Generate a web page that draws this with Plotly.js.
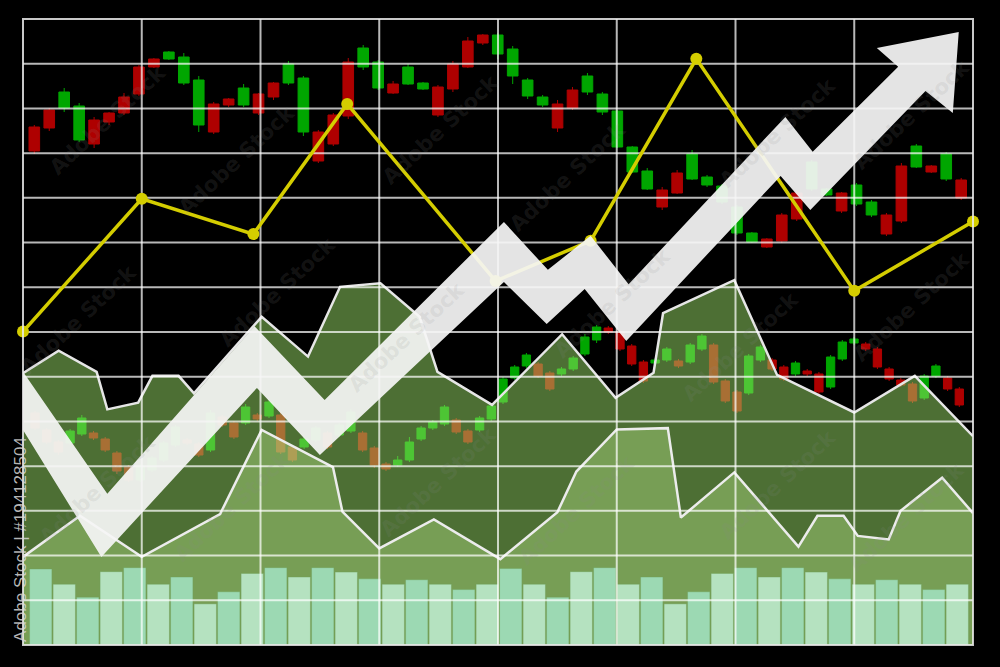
<!DOCTYPE html>
<html>
<head>
<meta charset="utf-8">
<script src="https://cdn.plot.ly/plotly-3.0.1.min.js"></script>
<style>
html,body{margin:0;padding:0;background:#000;}
#chart{width:1000px;height:667px;}
</style>
</head>
<body>
<div id="chart"></div>
<script>
// ---------- upper candlestick series (63 sessions) ----------
const upperOpen  = [518,535,537,505,525,532,548,578,586,586,562,520,541,546,540,551,562,562,513,513,530,583,578,557,561,561,556,558,581,604,610,591,569,549,540,541,555,553,533,498,473,456,455,472,466,460,443,412,403,406,430,452,456,450,452,441,430,430,479,478,479,466,465];
const upperClose = [494,517,553,539,501,523,532,551,578,593,588,565,513,540,557,532,548,581,567,484,501,529,597,583,552,578,562,530,556,578,602,610,596,565,548,517,537,569,551,534,498,474,438,452,491,468,459,438,412,398,404,426,483,456,434,460,443,411,424,499,473,491,447];
const upperHigh  = [520,537,557,542,528,533,552,580,587,594,592,569,543,547,561,552,563,584,569,515,532,587,600,585,564,581,563,560,584,608,611,612,599,567,550,545,558,572,553,535,499,477,458,475,495,470,461,440,413,407,432,454,485,457,453,462,445,432,482,501,480,493,467];
const upperLow   = [491,514,533,503,497,520,530,549,577,585,560,513,511,538,538,530,545,560,509,482,499,526,575,555,551,560,555,528,553,577,600,586,561,546,538,513,535,550,530,497,472,455,435,451,465,458,441,410,402,397,402,424,454,449,432,439,428,409,422,477,472,464,445];

// ---------- lower candlestick series (80 sessions) ----------
const lowerOpen  = [232,215,203,202,211,212,206,192,178,165,175,185,200,205,201,195,228,222,222,230,229,230,198,198,205,212,210,214,212,197,181,180,185,206,217,221,225,214,215,226,243,267,279,281,272,271,276,291,305,317,313,299,283,282,285,284,283,296,300,264,253,252,285,285,278,271,274,271,258,286,302,301,296,276,265,261,247,269,267,256];
const lowerClose = [217,203,193,214,227,207,195,174,165,179,187,202,218,202,190,232,220,208,238,226,243,193,185,206,217,198,220,233,195,180,176,185,203,217,223,238,213,203,227,239,266,278,290,269,256,276,287,308,318,313,296,281,264,285,296,279,300,309,263,244,234,289,298,276,266,282,271,253,288,303,306,296,278,266,260,244,269,279,256,240];
const lowerHigh  = [234,217,205,216,230,214,208,194,180,181,189,204,220,207,203,235,230,224,241,232,246,233,200,208,219,214,222,236,214,199,183,189,208,219,225,240,227,216,229,241,268,280,292,283,274,278,289,311,320,319,315,301,285,287,298,286,302,311,302,266,255,291,300,287,280,284,276,273,290,305,308,303,298,278,267,263,271,281,269,258];
const lowerLow   = [215,201,190,200,209,205,193,171,163,163,173,183,198,200,188,193,218,206,220,224,227,191,183,196,203,196,208,212,193,177,174,178,183,204,215,219,211,201,213,224,241,265,277,267,254,269,274,289,302,311,294,279,262,280,283,277,281,294,261,242,232,250,283,274,264,269,269,251,256,284,300,294,276,264,258,242,245,267,254,238];

// ---------- yellow line ----------
const yellowX = [0,1.00,1.94,2.73,3.98,4.78,5.67,7.00,8.00];
const yellowY = [7.01,9.98,9.19,12.10,8.14,9.04,13.11,7.92,9.47];

// ---------- dark green area ----------
const darkX = [0,0.30,0.62,0.71,0.97,1.09,1.31,1.44,2.01,2.40,2.67,3.01,3.34,3.49,3.95,4.54,4.99,5.31,5.39,5.99,6.35,7.00,7.51,8.00];
const darkY = [6.08,6.58,6.11,5.27,5.42,6.02,6.02,5.63,7.34,6.45,8.01,8.09,7.34,6.11,5.37,6.95,5.53,6.09,7.42,8.16,6.04,5.20,6.02,4.67];

// ---------- medium green area ----------
const medX = [0,0.48,1.00,1.66,2.01,2.61,2.69,3.00,3.46,4.02,4.50,4.66,5.00,5.43,5.54,5.99,6.53,6.69,6.91,7.03,7.29,7.39,7.74,8.00];
const medY = [1.97,2.89,1.97,2.93,4.81,3.98,2.98,2.16,2.81,1.92,2.97,3.88,4.82,4.85,2.85,3.86,2.20,2.89,2.89,2.44,2.36,3.00,3.74,2.95];

// ---------- volume bars (40) ----------
const barVals = [1.70,1.36,1.07,1.64,1.73,1.36,1.52,0.92,1.19,1.60,1.73,1.52,1.73,1.63,1.48,1.36,1.46,1.36,1.24,1.36,
                 1.71,1.36,1.07,1.64,1.73,1.36,1.52,0.92,1.19,1.60,1.73,1.52,1.73,1.63,1.48,1.36,1.46,1.36,1.24,1.36];

// ---------- rising arrow outline ----------
const arrowX = [0,0.71,1.95,2.54,4.05,4.42,4.78,5.10,6.42,6.65,7.37,7.19,7.88,7.83,7.60,6.63,6.38,5.08,4.73,4.41,4.05,2.50,1.97,0.66,0];
const arrowY = [6.11,3.38,7.13,5.48,9.46,8.39,9.15,8.07,11.81,11.03,12.93,13.35,13.71,11.90,12.39,9.73,10.49,6.80,7.96,7.18,8.12,4.25,5.75,1.97,4.81];

// ---------- grid ticks ----------
const gridXTicks = [1,2,3,4,5,6,7];
const gridYTicks = [1,2,3,4,5,6,7,8,9,10,11,12,13];

// ---------- texts ----------
const sideText = 'Adobe Stock | #194128504';
const watermarkText = 'Adobe Stock';
// watermark anchor points (paper fractions)
const wmX = [0.089,0.225,0.439,0.573,0.794,0.935, 0.058,0.268,0.404,0.621,0.755,0.935, 0.078,0.220,0.437,0.583,0.794,0.930];
const wmY = [0.839,0.775,0.823,0.748,0.818,0.847, 0.519,0.564,0.492,0.546,0.476,0.540, 0.248,0.220,0.260,0.216,0.256,0.204];

const upperIdx = upperOpen.map((_, i) => i);
const lowerIdx = lowerOpen.map((_, i) => i);
const barIdx = barVals.map((_, i) => i);

const GREEN = '#00a600', RED = '#ae0000';

const gx = [], gy = [];
gridXTicks.forEach(t => { gx.push(t, t, null); gy.push(0, 14, null); });
gridYTicks.forEach(t => { gx.push(0, 8, null); gy.push(t, t, null); });

const traces = [
  {type:'candlestick', xaxis:'x', yaxis:'y', x:upperIdx, open:upperOpen, high:upperHigh, low:upperLow, close:upperClose,
   increasing:{line:{color:GREEN,width:1}, fillcolor:GREEN},
   decreasing:{line:{color:RED,width:1}, fillcolor:RED}, hoverinfo:'skip', showlegend:false},
  {type:'candlestick', xaxis:'x2', yaxis:'y', x:lowerIdx, open:lowerOpen, high:lowerHigh, low:lowerLow, close:lowerClose,
   increasing:{line:{color:GREEN,width:1}, fillcolor:GREEN},
   decreasing:{line:{color:RED,width:1}, fillcolor:RED}, hoverinfo:'skip', showlegend:false},
  {type:'scatter', xaxis:'x3', yaxis:'y3', x:darkX, y:darkY, mode:'lines', fill:'tozeroy',
   fillcolor:'rgba(160,233,108,0.48)', line:{color:'#e6e6e6', width:2.5}, hoverinfo:'skip', showlegend:false},
  {type:'scatter', xaxis:'x3', yaxis:'y3', x:medX, y:medY, mode:'lines', fill:'tozeroy',
   fillcolor:'rgba(182,230,135,0.40)', line:{color:'#ececec', width:2.5}, hoverinfo:'skip', showlegend:false},
  {type:'bar', xaxis:'x4', yaxis:'y4', x:barIdx, y:barVals, width:0.95,
   marker:{color:barIdx.map(i => i % 2 === 0 ? '#9cd9b3' : '#b5e2c0'), line:{color:'rgba(110,160,90,0.7)', width:0.6}},
   hoverinfo:'skip', showlegend:false},
  {type:'scatter', xaxis:'x5', yaxis:'y5', x:gx, y:gy, mode:'lines', connectgaps:false,
   line:{color:'rgba(255,255,255,0.72)', width:2}, hoverinfo:'skip', showlegend:false},
  {type:'scatter', xaxis:'x5', yaxis:'y5', x:yellowX, y:yellowY, mode:'lines+markers',
   line:{color:'#d4cd00', width:3.5}, marker:{color:'#d4cd00', size:12}, cliponaxis:false, hoverinfo:'skip', showlegend:false},
  {type:'scatter', xaxis:'x5', yaxis:'y5', x:arrowX, y:arrowY, mode:'lines', fill:'toself',
   fillcolor:'rgba(245,245,245,0.93)', line:{width:0, color:'rgba(0,0,0,0)'}, hoverinfo:'skip', showlegend:false}
];

const annotations = wmX.map((x, i) => ({
  text: watermarkText, xref:'paper', yref:'paper', x:x, y:wmY[i], xanchor:'center', yanchor:'middle',
  textangle:-43, showarrow:false,
  font:{family:'DejaVu Sans, Liberation Sans, sans-serif', size:21, weight:'bold', color:'rgba(140,140,140,0.15)'}
}));
annotations.push({text:sideText, xref:'paper', yref:'paper', x:-0.002, y:0.168, xanchor:'center', yanchor:'middle',
  textangle:-90, showarrow:false, font:{family:'Liberation Sans, Arial, sans-serif', size:17, color:'rgba(215,215,215,0.85)'}});

const hidden = {visible:false, fixedrange:true};
const layout = {
  width:1000, height:667,
  paper_bgcolor:'#000', plot_bgcolor:'#000',
  margin:{l:23, r:27, t:19, b:22, pad:0},
  showlegend:false,
  boxgap:0.29, boxgroupgap:0,
  xaxis: Object.assign({range:[-0.756, 62.79], rangeslider:{visible:false}}, hidden),
  yaxis: Object.assign({range:[0, 626]}, hidden),
  xaxis2: Object.assign({range:[-1.026, 80.17], overlaying:'x', rangeslider:{visible:false}}, hidden),
  xaxis3: Object.assign({range:[0, 8], overlaying:'x'}, hidden),
  yaxis3: Object.assign({range:[0, 14], overlaying:'y'}, hidden),
  xaxis4: Object.assign({range:[-0.755, 39.67], overlaying:'x'}, hidden),
  yaxis4: Object.assign({range:[0, 14], overlaying:'y'}, hidden),
  xaxis5: Object.assign({range:[0, 8], overlaying:'x'}, hidden),
  yaxis5: Object.assign({range:[0, 14], overlaying:'y'}, hidden),
  shapes:[
    {type:'rect', xref:'paper', yref:'paper', x0:0, x1:1, y0:0, y1:1, layer:'above',
     line:{color:'rgba(235,235,235,0.85)', width:2}, fillcolor:'rgba(0,0,0,0)'}
  ],
  annotations: annotations
};

Plotly.newPlot('chart', traces, layout, {staticPlot:true, displayModeBar:false});
</script>
</body>
</html>
